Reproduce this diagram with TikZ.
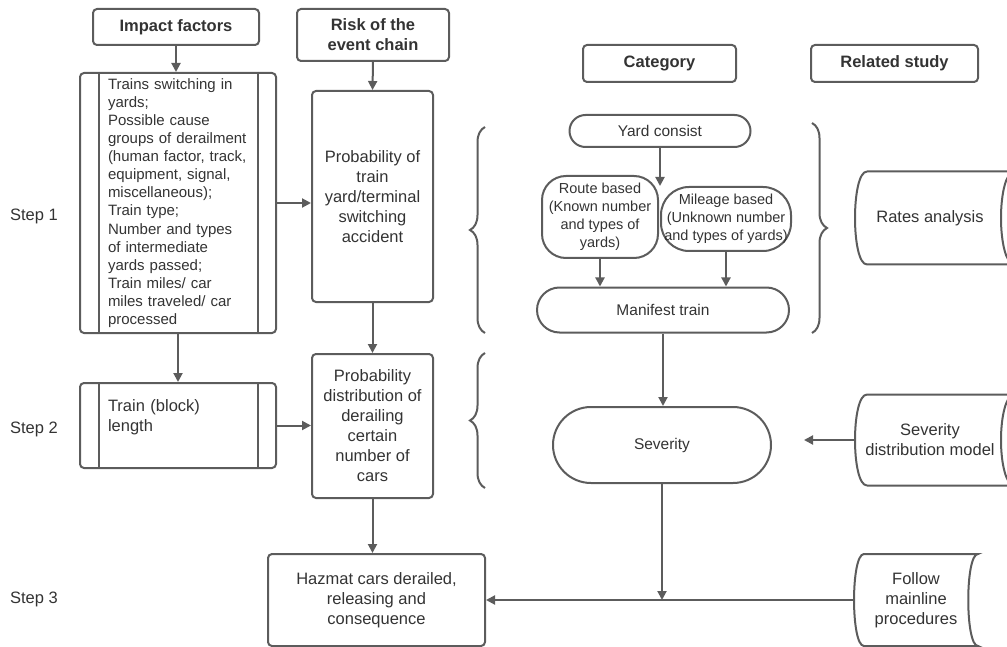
\documentclass[tikz,border=0pt]{standalone}
\usepackage{fontspec}
\setmainfont{Liberation Sans}
\usetikzlibrary{arrows.meta, shapes.misc, decorations.pathreplacing, calc}

\begin{document}
\begin{tikzpicture}[x=1pt, y=-1pt, line width=2pt, >={Triangle[length=9pt,width=9pt]},
  box/.style={draw=linegray, rounded corners=4pt, text=textgray, align=center, inner sep=2pt, font=\fontsize{16.5}{20}\selectfont},
  header/.style={box, font=\bfseries\fontsize{16.5}{20}\selectfont},
  process/.style={box, align=left, text width=140pt, font=\fontsize{15}{18.1}\selectfont},
  pill/.style={draw=linegray, rounded rectangle, text=textgray, align=center, inner sep=1pt, font=\fontsize{15.5}{19}\selectfont},
  branch/.style={draw=linegray, text=textgray, align=center, inner sep=0pt, font=\fontsize{14.5}{18}\selectfont},
  store/.style={text=textgray, align=center, inner sep=0pt, font=\fontsize{16.5}{20}\selectfont},
  steplabel/.style={anchor=west, text=textgray, inner sep=0pt, font=\fontsize{16.5}{20}\selectfont},
  flow/.style={draw=linegray, ->},
  bracket/.style={draw=linegray, decorate, decoration={brace, amplitude=15pt}}
]

\definecolor{linegray}{RGB}{92, 92, 92}
\definecolor{textgray}{RGB}{51, 51, 51}

\useasboundingbox (0,0) rectangle (1007,647);

% Column headers
\node[header, minimum width=166, minimum height=36] (hImpact) at (176, 27) {Impact factors};
\node[header, minimum width=152, minimum height=52] (hRisk) at (373, 35) {Risk of the\\event chain};
\node[header, minimum width=153, minimum height=37] (hCategory) at (659.5, 63.5) {Category};
\node[header, minimum width=167, minimum height=37] (hRelated) at (894.5, 63.5) {Related study};

% Step labels
\node[steplabel] (step1) at (9, 216) {Step 1};
\node[steplabel] (step2) at (9, 429) {Step 2};
\node[steplabel] (step3) at (9, 599) {Step 3};

% Impact factors
\node[process, minimum width=196, minimum height=260] (impact) at (178, 203) {Trains switching in\\yards;\\Possible cause\\groups of derailment\\(human factor, track,\\equipment, signal,\\miscellaneous);\\Train type;\\Number and types\\of intermediate\\yards passed;\\Train miles/ car\\miles traveled/ car\\processed};
\node[process, font=\fontsize{16.5}{20}\selectfont, minimum width=196, minimum height=85] (train) at (178, 425.5) {Train (block)\\length\\\mbox{}};
\foreach \n in {impact, train} {
  \draw[linegray] ($(\n.north west)+(20,0)$) -- ($(\n.south west)+(20,0)$);
  \draw[linegray] ($(\n.north east)+(-19,0)$) -- ($(\n.south east)+(-19,0)$);
}

% Risk of the event chain
\node[box, minimum width=121, minimum height=211] (prob) at (372.5, 196.5) {Probability of\\train\\yard/terminal\\switching\\accident};
\node[box, minimum width=121, minimum height=144] (dist) at (372.5, 426) {Probability\\distribution of\\derailing\\certain\\number of\\cars};
\node[box, minimum width=217, minimum height=92] (hazmat) at (376.5, 600) {Hazmat cars derailed,\\releasing and\\consequence};

% Category
\node[pill, minimum width=183, minimum height=32] (yard) at (660, 131) {Yard consist};
\node[branch, rounded corners=24pt, minimum width=116, minimum height=82] (route) at (600, 217) {Route based\\(Known number\\and types of\\yards)};
\node[branch, rounded corners=28pt, minimum width=130, minimum height=64] (mileage) at (726, 219) {Mileage based\\(Unknown number\\and types of yards)};
\node[pill, minimum width=254, minimum height=45] (manifest) at (663, 310) {Manifest train};
\node[pill, minimum width=220, minimum height=76] (severity) at (662, 445) {Severity};
\coordinate (split) at (660, 186);
\coordinate (join) at (662, 600);

% Related study
\node[store, minimum width=148, minimum height=91] (rates) at (930, 218) {Rates analysis};
\node[store, minimum width=148, minimum height=89] (sevmodel) at (930, 440) {Severity\\distribution model};
\node[store, minimum width=122, minimum height=90] (follow) at (916, 600) {Follow\\mainline\\procedures};
\foreach \n in {rates, sevmodel} {
  \draw[linegray] ($(\n.north west)+(12,0)$) -- ($(\n.north west)+(158,0)$)
    ($(\n.south west)+(12,0)$) -- ($(\n.south west)+(158,0)$)
    ($(\n.north west)+(12,0)$) .. controls ($(\n.north west)+(-4,0)$) and ($(\n.south west)+(-4,0)$) .. ($(\n.south west)+(12,0)$);
}
\draw[linegray] ($(rates.west)+(158,0)$) ellipse [x radius=12, y radius=45.5];
\draw[linegray] ($(sevmodel.west)+(158,0)$) ellipse [x radius=12, y radius=44.5];
\draw[linegray] ($(follow.north west)+(10,0)$) -- (follow.north east)
  .. controls ($(follow.north east)+(-13,0)$) and ($(follow.south east)+(-13,0)$) .. (follow.south east)
  -- ($(follow.south west)+(10,0)$)
  .. controls ($(follow.south west)+(-3.3,0)$) and ($(follow.north west)+(-3.3,0)$) .. cycle;

% Braces
\draw[bracket] (485, 333) -- (485, 127);
\draw[bracket] (812, 123) -- (812, 333);
\draw[bracket] (485, 488) -- (485, 353);

% Arrows
\draw[flow] (hImpact.south) -- (hImpact.south |- impact.north);
\draw[flow] (hRisk.south) -- (prob.north);
\draw[flow] (impact.east) -- (impact.east -| prob.west);
\draw[flow] (impact.south) -- (train.north);
\draw[flow] (prob.south) -- (dist.north);
\draw[flow] (train.east) -- (train.east -| dist.west);
\draw[flow] (dist.south) -- (dist.south |- hazmat.north);
\draw[flow] (yard.south) -- (split);
\draw[flow] (route.south) -- (route.south |- manifest.north);
\draw[flow] (mileage.south) -- (mileage.south |- manifest.north);
\draw[flow] (manifest.south) -- (manifest.south |- severity.north);
\draw[flow] (sevmodel.west) -- ([xshift=32pt]sevmodel.west -| severity.east);
\draw[flow] (severity.south) -- (join);
\draw[flow] (follow.west) -- (hazmat.east);

\end{tikzpicture}
\end{document}
